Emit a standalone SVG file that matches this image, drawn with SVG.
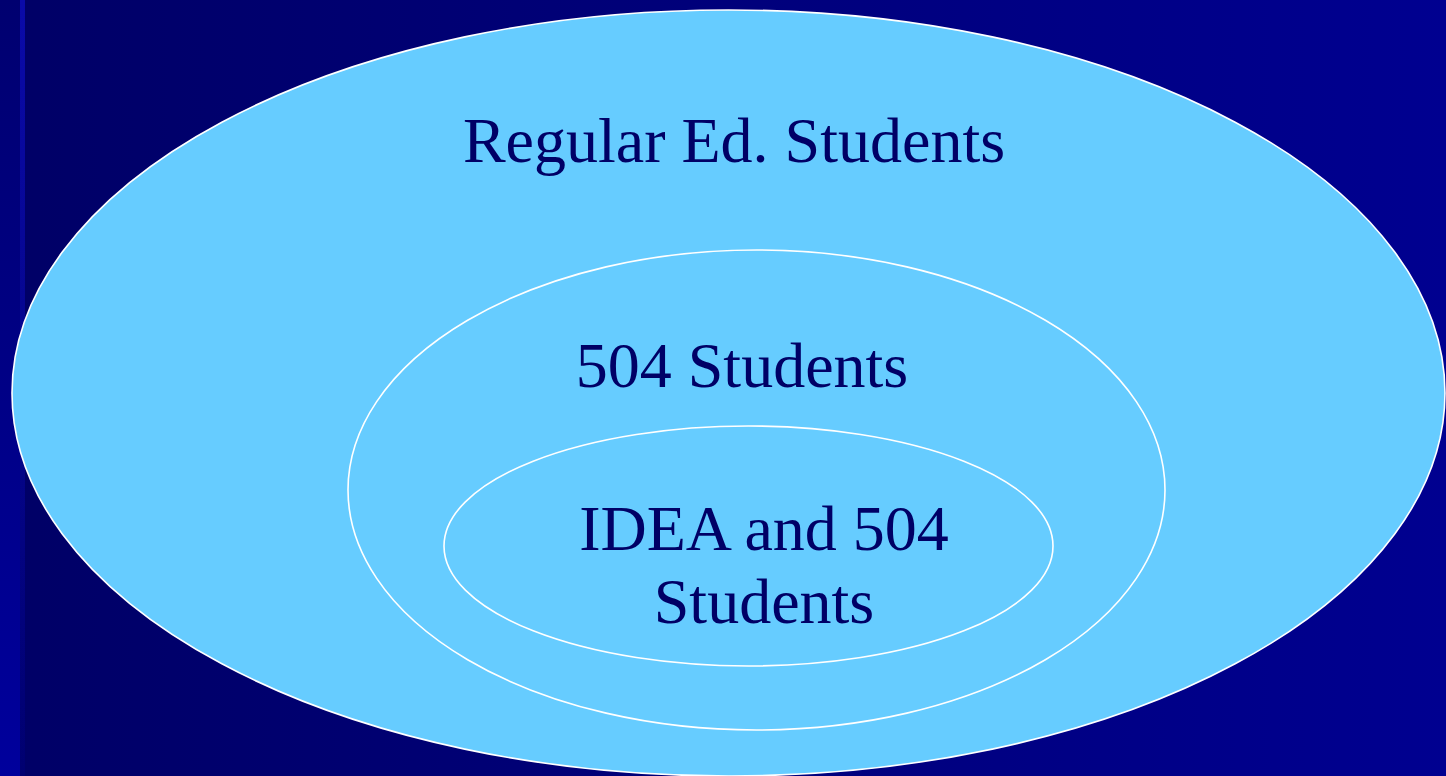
<svg xmlns="http://www.w3.org/2000/svg" width="1446" height="776" viewBox="0 0 1446 776">
  <defs>
    <linearGradient id="bg" x1="0" y1="0" x2="1" y2="0">
      <stop offset="0" stop-color="#000066"/>
      <stop offset="1" stop-color="#000090"/>
    </linearGradient>
    <linearGradient id="strip" x1="0" y1="0" x2="0" y2="1">
      <stop offset="0" stop-color="#000070"/>
      <stop offset="1" stop-color="#00009c"/>
    </linearGradient>
    <linearGradient id="line" x1="0" y1="0" x2="0" y2="1">
      <stop offset="0" stop-color="#0a0aa8"/>
      <stop offset="1" stop-color="#000070"/>
    </linearGradient>
  </defs>
  <style>
    .set { fill: #66ccff; stroke: #ffffff; stroke-width: 1.6; }
    .lbl { font-family: "Liberation Serif", "Times New Roman", serif; font-size: 64px; fill: #000066; text-anchor: middle; }
  </style>
  <rect x="0" y="0" width="1446" height="776" fill="url(#bg)"/>
  <rect x="0" y="0" width="20" height="776" fill="url(#strip)"/>
  <rect x="20" y="0" width="5" height="776" fill="url(#line)"/>
  <g id="regular">
    <ellipse class="set" cx="728.5" cy="393" rx="716.5" ry="383"/>
    <text class="lbl" x="734" y="162">Regular Ed. Students</text>
  </g>
  <g id="s504">
    <ellipse class="set" cx="756.5" cy="490" rx="408.5" ry="240"/>
    <text class="lbl" x="742" y="387">504 Students</text>
  </g>
  <g id="idea">
    <ellipse class="set" cx="748.5" cy="546" rx="304.5" ry="120"/>
    <text class="lbl" x="764" y="550">IDEA and 504</text>
    <text class="lbl" x="764" y="623">Students</text>
  </g>
  <g id="connectors"/>
</svg>
